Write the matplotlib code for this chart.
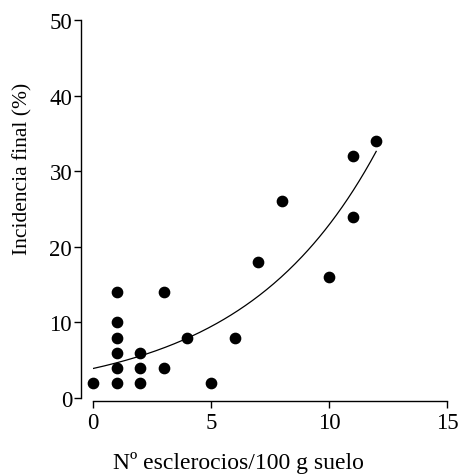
import numpy as np
import matplotlib
matplotlib.use('Agg')
import matplotlib.pyplot as plt

plt.rcParams['font.family'] = ['Liberation Serif', 'DejaVu Serif']

# Observed points
esclerocios = [0, 1, 1, 1, 1, 1, 1, 2, 2, 2, 3, 3, 4, 5, 6, 7, 8, 10, 11, 11, 12]
incidencia = [2, 2, 4, 6, 8, 10, 14, 2, 4, 6, 4, 14, 8, 2, 8, 18, 26, 16, 24, 32, 34]

# Exponential fit y = a * exp(b * x)
fit_a = 3.9
fit_b = 0.177
fit_xmax = 12

x_ticks = [0, 5, 10, 15]
y_ticks = [0, 10, 20, 30, 40, 50]

fig = plt.figure(figsize=(4.62, 4.77), dpi=100)
ax = fig.add_axes([93 / 462, 78 / 477, 354 / 462, 378 / 477])

xs = np.linspace(0, fit_xmax, 200)
ax.plot(xs, fit_a * np.exp(fit_b * xs), color='black', linewidth=0.9)
ax.scatter(esclerocios, incidencia, s=55, color='black', zorder=3, clip_on=False)

ax.set_xlim(0, 15)
ax.set_ylim(0, 50)
ax.set_xticks(x_ticks)
ax.set_yticks(y_ticks)

for side in ['top', 'right']:
    ax.spines[side].set_visible(False)
ax.spines['left'].set_position(('outward', 9))
ax.spines['bottom'].set_position(('outward', 2))
ax.spines['left'].set_linewidth(1.0)
ax.spines['bottom'].set_linewidth(1.0)

ax.tick_params(axis='both', labelsize=16.5, width=1.0, length=5, direction='out')
ax.tick_params(axis='y', pad=1)
ax.tick_params(axis='x', pad=3)

ax.set_xlabel('Nº esclerocios/100 g suelo', fontsize=17)
ax.set_ylabel('Incidencia final (%)', fontsize=15.5)
# labels in the reference sit off-centre (left / up)
ax.xaxis.set_label_coords(0.41, -0.14)
ax.yaxis.set_label_coords(-0.17, 0.61)

fig.savefig('out.png', dpi=100)
